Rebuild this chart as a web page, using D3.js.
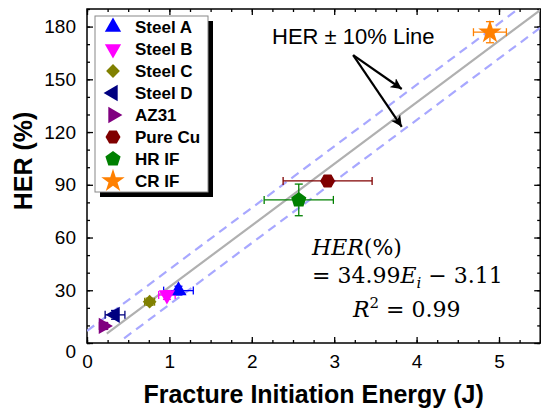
<!DOCTYPE html>
<html>
<head>
<meta charset="utf-8">
<script src="https://cdn.jsdelivr.net/npm/d3@7"></script>
<style>
  body { margin: 0; background: #fff; }
  svg { font-family: "Liberation Sans", Arial, sans-serif; }
</style>
</head>
<body>
<div id="chart"></div>
<script>
// data
var materials = ["Steel A", "Steel B", "Steel C", "Steel D", "AZ31", "Pure Cu", "HR IF", "CR IF"];
var energy    = [1.11, 0.97, 0.76, 0.34, 0.20, 2.92, 2.57, 4.89];
var her       = [29.8, 27.3, 23.5, 16.0, 9.7, 92.2, 81.4, 176.8];
var energyErr = [0.18, 0.10, 0.06, 0.12, 0.05, 0.54, 0.42, 0.20];
var herErr    = [2.5, 2.5, 2.0, 2.5, 2.0, 3.0, 9.0, 6.0];
var colors    = ["#0000ff", "#ff00ff", "#808000", "#000080", "#800080", "#800000", "#008000", "#ff8000"];
var shapes    = ["up", "down", "diamond", "left", "right", "hexagon", "pentagon", "star"];

var xTicks = [0, 1, 2, 3, 4, 5];
var yTicks = [0, 30, 60, 90, 120, 150, 180];

// fit: HER = 34.99 E - 3.11, band +/- 10
var slope = 34.99, intercept = -3.11, band = 10;

var width = 541, height = 411;
var svg = d3.select("#chart").append("svg")
  .attr("width", width).attr("height", height);

var x = d3.scaleLinear().domain([0, 5.5]).range([87, 540.2]);
var y = d3.scaleLinear().domain([0, 190]).range([343, 9]);

var defs = svg.append("defs");
defs.append("clipPath").attr("id", "plotclip")
  .append("rect").attr("x", x(0)).attr("y", y(190))
  .attr("width", x(5.5) - x(0)).attr("height", y(0) - y(190));
defs.append("marker").attr("id", "arrow")
  .attr("viewBox", "0 0 10 10").attr("refX", 10).attr("refY", 5)
  .attr("markerWidth", 11).attr("markerHeight", 11)
  .attr("markerUnits", "userSpaceOnUse").attr("orient", "auto")
  .append("path").attr("d", "M0,0 L10,5 L0,10 L2.5,5 Z").attr("fill", "#000");

// axes: ticks point into the plot
function styleAxis(g) {
  g.select(".domain").remove();
  g.selectAll(".tick line").attr("stroke", "#000").attr("stroke-width", 1.3);
}
var minorX = d3.range(0, 5.51, 0.25), minorY = d3.range(0, 191, 10);

svg.append("g").attr("transform", "translate(0," + y(0) + ")")
  .call(d3.axisBottom(x).tickValues(minorX).tickSize(-3).tickFormat(""))
  .call(styleAxis);
svg.append("g").attr("transform", "translate(0," + y(0) + ")")
  .call(d3.axisBottom(x).tickValues(xTicks).tickSize(-6).tickSizeOuter(0).tickPadding(12).tickFormat(d3.format("d")))
  .call(styleAxis)
  .selectAll("text").attr("font-size", 19).attr("fill", "#000");
svg.append("g").attr("transform", "translate(0," + y(190) + ")")
  .call(d3.axisTop(x).tickValues(minorX).tickSize(-3).tickFormat(""))
  .call(styleAxis);
svg.append("g").attr("transform", "translate(0," + y(190) + ")")
  .call(d3.axisTop(x).tickValues(xTicks).tickSize(-6).tickFormat(""))
  .call(styleAxis);

svg.append("g").attr("transform", "translate(" + x(0) + ",0)")
  .call(d3.axisLeft(y).tickValues(minorY).tickSize(-3).tickFormat(""))
  .call(styleAxis);
var yAxis = svg.append("g").attr("transform", "translate(" + x(0) + ",0)")
  .call(d3.axisLeft(y).tickValues(yTicks).tickSize(-6).tickPadding(11).tickFormat(d3.format("d")))
  .call(styleAxis);
yAxis.selectAll("text").attr("font-size", 19).attr("fill", "#000")
  .attr("dy", function(d) { return d === 0 ? "0.75em" : "0.32em"; });
svg.append("g").attr("transform", "translate(" + x(5.5) + ",0)")
  .call(d3.axisRight(y).tickValues(minorY).tickSize(-3).tickFormat(""))
  .call(styleAxis);
svg.append("g").attr("transform", "translate(" + x(5.5) + ",0)")
  .call(d3.axisRight(y).tickValues(yTicks).tickSize(-6).tickFormat(""))
  .call(styleAxis);

svg.append("rect")
  .attr("x", x(0)).attr("y", y(190))
  .attr("width", x(5.5) - x(0)).attr("height", y(0) - y(190))
  .attr("fill", "none").attr("stroke", "#000").attr("stroke-width", 1.5);

// axis titles
svg.append("text")
  .attr("x", (x(0) + x(5.5)) / 2).attr("y", 403)
  .attr("text-anchor", "middle").attr("font-size", 25).attr("font-weight", "bold")
  .text("Fracture Initiation Energy (J)");
svg.append("text")
  .attr("transform", "translate(32,161) rotate(-90)")
  .attr("text-anchor", "middle").attr("font-size", 25).attr("font-weight", "bold")
  .text("HER (%)");

// fit line and +/-10 band
var plot = svg.append("g").attr("clip-path", "url(#plotclip)");
var line = d3.line().x(function(d) { return x(d[0]); }).y(function(d) { return y(d[1]); });

plot.append("path")
  .datum([[0, intercept + band], [5.5, slope * 5.5 + intercept + band]])
  .attr("d", line).attr("fill", "none")
  .attr("stroke", "#a8a8ff").attr("stroke-width", 2.2).attr("stroke-dasharray", "9,6");
plot.append("path")
  .datum([[0.45, slope * 0.45 + intercept - band], [5.5, slope * 5.5 + intercept - band]])
  .attr("d", line).attr("fill", "none")
  .attr("stroke", "#a8a8ff").attr("stroke-width", 2.2).attr("stroke-dasharray", "9,6");
plot.append("path")
  .datum([[0.24, slope * 0.24 + intercept], [5.5, slope * 5.5 + intercept]])
  .attr("d", line).attr("fill", "none")
  .attr("stroke", "#b0b0b0").attr("stroke-width", 2.2);

// marker shapes
function polygon(n, r, rot) {
  var pts = d3.range(n).map(function(i) {
    var a = rot + i * 2 * Math.PI / n;
    return [r * Math.cos(a), r * Math.sin(a)];
  });
  return "M" + pts.join("L") + "Z";
}
function shapePath(s) {
  if (s === "hexagon") return polygon(6, 7.5, 0);
  if (s === "pentagon") return polygon(5, 8, -Math.PI / 2);
  if (s === "star") return d3.symbol(d3.symbolStar, 170)();
  if (s === "diamond") return d3.symbol(d3.symbolSquare, 95)();
  return d3.symbol(d3.symbolTriangle, 115)();
}
function shapeRotate(s) {
  return { up: 0, down: 180, left: -90, right: 90, diamond: 45 }[s] || 0;
}

var points = materials.map(function(m, i) {
  return { name: m, x: energy[i], y: her[i], ex: energyErr[i], ey: herErr[i], color: colors[i], shape: shapes[i] };
});

// error bars
var eb = svg.append("g").selectAll("g").data(points).enter().append("g")
  .attr("stroke", function(d) { return d.color; }).attr("stroke-width", 1.3).attr("fill", "none");
eb.append("line")
  .attr("x1", function(d) { return x(d.x - d.ex); }).attr("x2", function(d) { return x(d.x + d.ex); })
  .attr("y1", function(d) { return y(d.y); }).attr("y2", function(d) { return y(d.y); });
eb.append("line")
  .attr("x1", function(d) { return x(d.x); }).attr("x2", function(d) { return x(d.x); })
  .attr("y1", function(d) { return y(d.y - d.ey); }).attr("y2", function(d) { return y(d.y + d.ey); });
[-1, 1].forEach(function(sgn) {
  eb.append("line")
    .attr("x1", function(d) { return x(d.x + sgn * d.ex); }).attr("x2", function(d) { return x(d.x + sgn * d.ex); })
    .attr("y1", function(d) { return y(d.y) - 4; }).attr("y2", function(d) { return y(d.y) + 4; });
  eb.append("line")
    .attr("x1", function(d) { return x(d.x) - 4; }).attr("x2", function(d) { return x(d.x) + 4; })
    .attr("y1", function(d) { return y(d.y + sgn * d.ey); }).attr("y2", function(d) { return y(d.y + sgn * d.ey); });
});

svg.append("g").selectAll("path").data(points).enter().append("path")
  .attr("d", function(d) { return shapePath(d.shape); })
  .attr("transform", function(d) { return "translate(" + x(d.x) + "," + y(d.y) + ") rotate(" + shapeRotate(d.shape) + ")"; })
  .attr("fill", function(d) { return d.color; });

// legend
var lg = svg.append("g").attr("transform", "translate(95,16)");
lg.append("rect").attr("x", 5).attr("y", 5).attr("width", 113).attr("height", 176).attr("fill", "#000");
lg.append("rect").attr("x", 0).attr("y", 0).attr("width", 113).attr("height", 176)
  .attr("fill", "#fff").attr("stroke", "#888").attr("stroke-width", 1);
var items = lg.selectAll("g.item").data(points).enter().append("g")
  .attr("transform", function(d, i) { return "translate(0," + (11 + i * 22) + ")"; });
items.append("path")
  .attr("d", function(d) { return shapePath(d.shape); })
  .attr("transform", function(d) { return "translate(18,0) rotate(" + shapeRotate(d.shape) + ")"; })
  .attr("fill", function(d) { return d.color; });
items.append("text")
  .attr("x", 40).attr("dy", "0.36em")
  .attr("font-size", 17).attr("font-weight", "bold")
  .text(function(d) { return d.name; });

// annotation with arrows
svg.append("text").attr("x", 272).attr("y", 44).attr("font-size", 22).text("HER \u00b1 10% Line");
var arrowFrom = [3.23, 163.8];
var arrowTo = [[3.82, 144.5], [3.82, 123]];
svg.append("g").selectAll("line").data(arrowTo).enter().append("line")
  .attr("x1", x(arrowFrom[0])).attr("y1", y(arrowFrom[1]))
  .attr("x2", function(d) { return x(d[0]); }).attr("y2", function(d) { return y(d[1]); })
  .attr("stroke", "#000").attr("stroke-width", 2.2).attr("marker-end", "url(#arrow)");

// equation
var eq = svg.append("g").attr("font-family", "'DejaVu Serif', 'Liberation Serif', serif").attr("font-size", 22);
var t1 = eq.append("text").attr("x", 312).attr("y", 255);
t1.append("tspan").attr("font-style", "italic").text("HER");
t1.append("tspan").text("(%)");
var t2 = eq.append("text").attr("x", 312).attr("y", 283);
t2.append("tspan").text("= 34.99");
t2.append("tspan").attr("font-style", "italic").text("E");
t2.append("tspan").attr("font-style", "italic").attr("font-size", 15).attr("dy", 5).text("i");
t2.append("tspan").attr("dy", -5).text(" \u2212 3.11");
var t3 = eq.append("text").attr("x", 353).attr("y", 317);
t3.append("tspan").attr("font-style", "italic").text("R");
t3.append("tspan").attr("font-size", 15).attr("dy", -9).text("2");
t3.append("tspan").attr("dy", 9).text(" = 0.99");
</script>
</body>
</html>
